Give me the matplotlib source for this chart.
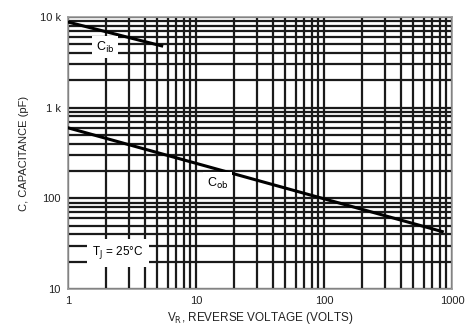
import matplotlib.pyplot as plt
from matplotlib.ticker import LogLocator, FixedLocator, NullFormatter

plt.rcParams['font.family'] = ['Liberation Sans Narrow', 'Liberation Sans', 'DejaVu Sans']

# curva Cib (capacidad de entrada) y Cob (capacidad de salida)
vr_ib = [1, 5.4]
c_ib = [8800, 4800]
vr_ob = [1, 840]
c_ob = [600, 43]

xticks = [1, 10, 100, 1000]
xticklabels = ['1', '10', '100', '1000']
yticks = [10, 100, 1000, 10000]
yticklabels = ['10', '100', '1 k', '10 k']

fig = plt.figure(figsize=(4.65, 3.33), dpi=100)
ax = fig.add_axes([0.146, 0.132, 0.826, 0.817])
ax.set_xscale('log')
ax.set_yscale('log')
ax.set_xlim(1, 1000)
ax.set_ylim(10, 10000)

# rejilla densa tipo hoja de datos
ax.xaxis.set_minor_locator(LogLocator(base=10, subs=range(2, 10)))
ax.yaxis.set_minor_locator(LogLocator(base=10, subs=range(2, 10)))
ax.xaxis.set_minor_formatter(NullFormatter())
ax.yaxis.set_minor_formatter(NullFormatter())
ax.grid(True, which='both', color='#1a1a1a', lw=1.6)
ax.tick_params(which='both', length=0, labelsize=8, colors='#222222', pad=5)
ax.xaxis.set_major_locator(FixedLocator(xticks))
ax.yaxis.set_major_locator(FixedLocator(yticks))
ax.set_xticklabels(xticklabels)
ax.set_yticklabels(yticklabels)
for s in ax.spines.values():
    s.set_color('#999999')
    s.set_linewidth(1.2)

ax.plot(vr_ib, c_ib, color='black', lw=2.2, zorder=3)
ax.plot(vr_ob, c_ob, color='black', lw=2.2, zorder=3)

caja = dict(boxstyle='square,pad=0.3', fc='white', ec='none')
ax.text(1.95, 4650, r'C$_{\rm ib}$', fontsize=9, ha='center', va='center', bbox=caja, zorder=4)
ax.text(14.8, 145, r'C$_{\rm ob}$', fontsize=9, ha='center', va='center', bbox=caja, zorder=4)
ax.text(2.45, 25, r'T$_{\rm J}$ = 25°C', fontsize=8.5, ha='center', va='center',
        bbox=dict(boxstyle='square,pad=0.45', fc='white', ec='none'), zorder=4)

ax.set_xlabel(r'V$_{\rm R}$, REVERSE VOLTAGE (VOLTS)', fontsize=8.5, color='#222222', labelpad=3)
ax.set_ylabel('C, CAPACITANCE (pF)', fontsize=8, color='#222222', labelpad=8)

fig.savefig('out.png', dpi=100)
